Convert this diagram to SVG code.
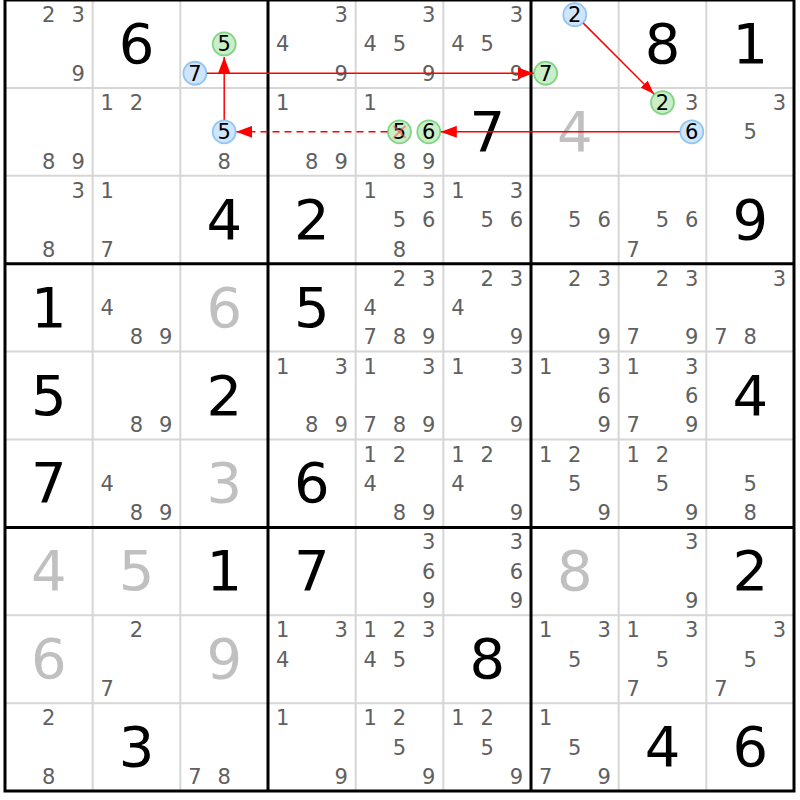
<svg xmlns="http://www.w3.org/2000/svg" width="800" height="800" viewBox="0 0 800 800">
<style>
text{font-family:"DejaVu Sans","Liberation Sans",sans-serif;text-anchor:middle}
.c{font-size:21px;fill:#606060}
.g{font-size:56px;fill:#000}
.s{font-size:56px;fill:#c0c0c0}
.d{font-size:21px;fill:#000}
.cb{fill:#cfe5fb;stroke:#92c6f2;stroke-width:1.8}
.cg{fill:#c9efc9;stroke:#84d484;stroke-width:1.8}
.thin{stroke:#d6d6d6;stroke-width:2}
.thick{stroke:#000;stroke-width:3}
.lk{stroke:#ff0000;stroke-width:1.5;fill:none}
.x{stroke:#ff5050;stroke-width:2;stroke-opacity:0.6}
</style>
<defs>
<marker id="ah" viewBox="0 0 16 12" refX="16" refY="6" markerWidth="16" markerHeight="12" markerUnits="userSpaceOnUse" orient="auto"><path d="M0,0 L16,6 L0,12 Z" fill="#ff0000"/></marker>
<marker id="ahs" viewBox="0 0 14 10" refX="14" refY="5" markerWidth="14" markerHeight="10" markerUnits="userSpaceOnUse" orient="auto"><path d="M0,0 L14,5 L0,10 Z" fill="#ff0000"/></marker>
</defs>
<rect x="0" y="0" width="800" height="800" fill="#fff"/>
<g id="grid">
<g class="thin">
<line x1="92.67" y1="0" x2="92.67" y2="791"/><line x1="180.33" y1="0" x2="180.33" y2="791"/>
<line x1="355.67" y1="0" x2="355.67" y2="791"/><line x1="443.33" y1="0" x2="443.33" y2="791"/>
<line x1="618.67" y1="0" x2="618.67" y2="791"/><line x1="706.33" y1="0" x2="706.33" y2="791"/>
<line x1="5" y1="87.9" x2="794" y2="87.9"/><line x1="5" y1="175.8" x2="794" y2="175.8"/>
<line x1="5" y1="351.6" x2="794" y2="351.6"/><line x1="5" y1="439.5" x2="794" y2="439.5"/>
<line x1="5" y1="615.3" x2="794" y2="615.3"/><line x1="5" y1="703.2" x2="794" y2="703.2"/>
</g>
<g class="thick">
<line x1="268" y1="0" x2="268" y2="791"/><line x1="531" y1="0" x2="531" y2="791"/>
<line x1="5" y1="263.7" x2="794" y2="263.7"/><line x1="5" y1="527.4" x2="794" y2="527.4"/>
<rect x="5" y="0" width="789" height="791" fill="none"/>
</g>
</g>
<g id="cells" transform="translate(0,0.6)">
<g id="r0c0"><text class="c" x="48.8" y="21.5">2</text><text class="c" x="78.1" y="21.5">3</text><text class="c" x="78.1" y="80.2">9</text></g>
<g id="r0c1"><text class="g" x="136.5" y="62.4">6</text></g>
<g id="r0c2"><circle class="cg" cx="224.2" cy="43.35" r="11.5"/><text class="d" x="224.2" y="50.9">5</text><circle class="cb" cx="194.9" cy="72.65" r="11.5"/><text class="d" x="194.9" y="80.2">7</text></g>
<g id="r0c3"><text class="c" x="341.1" y="21.5">3</text><text class="c" x="282.6" y="50.9">4</text><text class="c" x="341.1" y="80.2">9</text></g>
<g id="r0c4"><text class="c" x="428.8" y="21.5">3</text><text class="c" x="370.3" y="50.9">4</text><text class="c" x="399.5" y="50.9">5</text><text class="c" x="428.8" y="80.2">9</text></g>
<g id="r0c5"><text class="c" x="516.4" y="21.5">3</text><text class="c" x="457.9" y="50.9">4</text><text class="c" x="487.2" y="50.9">5</text><text class="c" x="516.4" y="80.2">9</text></g>
<g id="r0c6"><circle class="cb" cx="574.8" cy="14.05" r="11.5"/><text class="d" x="574.8" y="21.6">2</text><circle class="cg" cx="545.6" cy="72.65" r="11.5"/><text class="d" x="545.6" y="80.2">7</text></g>
<g id="r0c7"><text class="g" x="662.5" y="62.4">8</text></g>
<g id="r0c8"><text class="g" x="750.2" y="62.4">1</text></g>

<g id="r1c0"><text class="c" x="48.8" y="168.1">8</text><text class="c" x="78.1" y="168.1">9</text></g>
<g id="r1c1"><text class="c" x="107.3" y="109.4">1</text><text class="c" x="136.5" y="109.4">2</text></g>
<g id="r1c2"><circle class="cb" cx="224.2" cy="131.25" r="11.5"/><text class="d" x="224.2" y="138.8">5</text><text class="c" x="224.2" y="168.1">8</text></g>
<g id="r1c3"><text class="c" x="282.6" y="109.4">1</text><text class="c" x="311.8" y="168.1">8</text><text class="c" x="341.1" y="168.1">9</text></g>
<g id="r1c4"><text class="c" x="370.3" y="109.4">1</text><circle class="cg" cx="399.5" cy="131.25" r="11.5"/><text class="d" x="399.5" y="138.8">5</text><line class="x" x1="393.5" y1="125.25" x2="405.5" y2="137.25"/><line class="x" x1="405.5" y1="125.25" x2="393.5" y2="137.25"/><circle class="cg" cx="428.8" cy="131.25" r="11.5"/><text class="d" x="428.8" y="138.8">6</text><text class="c" x="399.5" y="168.1">8</text><text class="c" x="428.8" y="168.1">9</text></g>
<g id="r1c5"><text class="g" x="487.2" y="150.3">7</text></g>
<g id="r1c6"><text class="s" x="574.8" y="150.3">4</text></g>
<g id="r1c7"><circle class="cg" cx="662.5" cy="101.95" r="11.5"/><text class="d" x="662.5" y="109.5">2</text><text class="c" x="691.8" y="109.4">3</text><circle class="cb" cx="691.8" cy="131.25" r="11.5"/><text class="d" x="691.8" y="138.8">6</text></g>
<g id="r1c8"><text class="c" x="779.4" y="109.4">3</text><text class="c" x="750.2" y="138.8">5</text></g>

<g id="r2c0"><text class="c" x="78.1" y="197.3">3</text><text class="c" x="48.8" y="256">8</text></g>
<g id="r2c1"><text class="c" x="107.3" y="197.3">1</text><text class="c" x="107.3" y="256">7</text></g>
<g id="r2c2"><text class="g" x="224.2" y="238.2">4</text></g>
<g id="r2c3"><text class="g" x="311.8" y="238.2">2</text></g>
<g id="r2c4"><text class="c" x="370.3" y="197.3">1</text><text class="c" x="428.8" y="197.3">3</text><text class="c" x="399.5" y="226.7">5</text><text class="c" x="428.8" y="226.7">6</text><text class="c" x="399.5" y="256">8</text></g>
<g id="r2c5"><text class="c" x="457.9" y="197.3">1</text><text class="c" x="516.4" y="197.3">3</text><text class="c" x="487.2" y="226.7">5</text><text class="c" x="516.4" y="226.7">6</text></g>
<g id="r2c6"><text class="c" x="574.8" y="226.7">5</text><text class="c" x="604.1" y="226.7">6</text></g>
<g id="r2c7"><text class="c" x="662.5" y="226.7">5</text><text class="c" x="691.8" y="226.7">6</text><text class="c" x="633.3" y="256">7</text></g>
<g id="r2c8"><text class="g" x="750.2" y="238.2">9</text></g>

<g id="r3c0"><text class="g" x="48.8" y="326.1">1</text></g>
<g id="r3c1"><text class="c" x="107.3" y="314.6">4</text><text class="c" x="136.5" y="343.9">8</text><text class="c" x="165.8" y="343.9">9</text></g>
<g id="r3c2"><text class="s" x="224.2" y="326.1">6</text></g>
<g id="r3c3"><text class="g" x="311.8" y="326.1">5</text></g>
<g id="r3c4"><text class="c" x="399.5" y="285.2">2</text><text class="c" x="428.8" y="285.2">3</text><text class="c" x="370.3" y="314.6">4</text><text class="c" x="370.3" y="343.9">7</text><text class="c" x="399.5" y="343.9">8</text><text class="c" x="428.8" y="343.9">9</text></g>
<g id="r3c5"><text class="c" x="487.2" y="285.2">2</text><text class="c" x="516.4" y="285.2">3</text><text class="c" x="457.9" y="314.6">4</text><text class="c" x="516.4" y="343.9">9</text></g>
<g id="r3c6"><text class="c" x="574.8" y="285.2">2</text><text class="c" x="604.1" y="285.2">3</text><text class="c" x="604.1" y="343.9">9</text></g>
<g id="r3c7"><text class="c" x="662.5" y="285.2">2</text><text class="c" x="691.8" y="285.2">3</text><text class="c" x="633.3" y="343.9">7</text><text class="c" x="691.8" y="343.9">9</text></g>
<g id="r3c8"><text class="c" x="779.4" y="285.2">3</text><text class="c" x="720.9" y="343.9">7</text><text class="c" x="750.2" y="343.9">8</text></g>

<g id="r4c0"><text class="g" x="48.8" y="414">5</text></g>
<g id="r4c1"><text class="c" x="136.5" y="431.8">8</text><text class="c" x="165.8" y="431.8">9</text></g>
<g id="r4c2"><text class="g" x="224.2" y="414">2</text></g>
<g id="r4c3"><text class="c" x="282.6" y="373.1">1</text><text class="c" x="341.1" y="373.1">3</text><text class="c" x="311.8" y="431.8">8</text><text class="c" x="341.1" y="431.8">9</text></g>
<g id="r4c4"><text class="c" x="370.3" y="373.1">1</text><text class="c" x="428.8" y="373.1">3</text><text class="c" x="370.3" y="431.8">7</text><text class="c" x="399.5" y="431.8">8</text><text class="c" x="428.8" y="431.8">9</text></g>
<g id="r4c5"><text class="c" x="457.9" y="373.1">1</text><text class="c" x="516.4" y="373.1">3</text><text class="c" x="516.4" y="431.8">9</text></g>
<g id="r4c6"><text class="c" x="545.6" y="373.1">1</text><text class="c" x="604.1" y="373.1">3</text><text class="c" x="604.1" y="402.5">6</text><text class="c" x="604.1" y="431.8">9</text></g>
<g id="r4c7"><text class="c" x="633.3" y="373.1">1</text><text class="c" x="691.8" y="373.1">3</text><text class="c" x="691.8" y="402.5">6</text><text class="c" x="633.3" y="431.8">7</text><text class="c" x="691.8" y="431.8">9</text></g>
<g id="r4c8"><text class="g" x="750.2" y="414">4</text></g>

<g id="r5c0"><text class="g" x="48.8" y="501.9">7</text></g>
<g id="r5c1"><text class="c" x="107.3" y="490.4">4</text><text class="c" x="136.5" y="519.7">8</text><text class="c" x="165.8" y="519.7">9</text></g>
<g id="r5c2"><text class="s" x="224.2" y="501.9">3</text></g>
<g id="r5c3"><text class="g" x="311.8" y="501.9">6</text></g>
<g id="r5c4"><text class="c" x="370.3" y="461">1</text><text class="c" x="399.5" y="461">2</text><text class="c" x="370.3" y="490.4">4</text><text class="c" x="399.5" y="519.7">8</text><text class="c" x="428.8" y="519.7">9</text></g>
<g id="r5c5"><text class="c" x="457.9" y="461">1</text><text class="c" x="487.2" y="461">2</text><text class="c" x="457.9" y="490.4">4</text><text class="c" x="516.4" y="519.7">9</text></g>
<g id="r5c6"><text class="c" x="545.6" y="461">1</text><text class="c" x="574.8" y="461">2</text><text class="c" x="574.8" y="490.4">5</text><text class="c" x="604.1" y="519.7">9</text></g>
<g id="r5c7"><text class="c" x="633.3" y="461">1</text><text class="c" x="662.5" y="461">2</text><text class="c" x="662.5" y="490.4">5</text><text class="c" x="691.8" y="519.7">9</text></g>
<g id="r5c8"><text class="c" x="750.2" y="490.4">5</text><text class="c" x="750.2" y="519.7">8</text></g>

<g id="r6c0"><text class="s" x="48.8" y="589.8">4</text></g>
<g id="r6c1"><text class="s" x="136.5" y="589.8">5</text></g>
<g id="r6c2"><text class="g" x="224.2" y="589.8">1</text></g>
<g id="r6c3"><text class="g" x="311.8" y="589.8">7</text></g>
<g id="r6c4"><text class="c" x="428.8" y="548.9">3</text><text class="c" x="428.8" y="578.3">6</text><text class="c" x="428.8" y="607.6">9</text></g>
<g id="r6c5"><text class="c" x="516.4" y="548.9">3</text><text class="c" x="516.4" y="578.3">6</text><text class="c" x="516.4" y="607.6">9</text></g>
<g id="r6c6"><text class="s" x="574.8" y="589.8">8</text></g>
<g id="r6c7"><text class="c" x="691.8" y="548.9">3</text><text class="c" x="691.8" y="607.6">9</text></g>
<g id="r6c8"><text class="g" x="750.2" y="589.8">2</text></g>

<g id="r7c0"><text class="s" x="48.8" y="677.7">6</text></g>
<g id="r7c1"><text class="c" x="136.5" y="636.8">2</text><text class="c" x="107.3" y="695.5">7</text></g>
<g id="r7c2"><text class="s" x="224.2" y="677.7">9</text></g>
<g id="r7c3"><text class="c" x="282.6" y="636.8">1</text><text class="c" x="341.1" y="636.8">3</text><text class="c" x="282.6" y="666.2">4</text></g>
<g id="r7c4"><text class="c" x="370.3" y="636.8">1</text><text class="c" x="399.5" y="636.8">2</text><text class="c" x="428.8" y="636.8">3</text><text class="c" x="370.3" y="666.2">4</text><text class="c" x="399.5" y="666.2">5</text></g>
<g id="r7c5"><text class="g" x="487.2" y="677.7">8</text></g>
<g id="r7c6"><text class="c" x="545.6" y="636.8">1</text><text class="c" x="604.1" y="636.8">3</text><text class="c" x="574.8" y="666.2">5</text></g>
<g id="r7c7"><text class="c" x="633.3" y="636.8">1</text><text class="c" x="691.8" y="636.8">3</text><text class="c" x="662.5" y="666.2">5</text><text class="c" x="633.3" y="695.5">7</text></g>
<g id="r7c8"><text class="c" x="779.4" y="636.8">3</text><text class="c" x="750.2" y="666.2">5</text><text class="c" x="720.9" y="695.5">7</text></g>

<g id="r8c0"><text class="c" x="48.8" y="724.7">2</text><text class="c" x="48.8" y="783.4">8</text></g>
<g id="r8c1"><text class="g" x="136.5" y="765.6">3</text></g>
<g id="r8c2"><text class="c" x="194.9" y="783.4">7</text><text class="c" x="224.2" y="783.4">8</text></g>
<g id="r8c3"><text class="c" x="282.6" y="724.7">1</text><text class="c" x="341.1" y="783.4">9</text></g>
<g id="r8c4"><text class="c" x="370.3" y="724.7">1</text><text class="c" x="399.5" y="724.7">2</text><text class="c" x="399.5" y="754.1">5</text><text class="c" x="428.8" y="783.4">9</text></g>
<g id="r8c5"><text class="c" x="457.9" y="724.7">1</text><text class="c" x="487.2" y="724.7">2</text><text class="c" x="487.2" y="754.1">5</text><text class="c" x="516.4" y="783.4">9</text></g>
<g id="r8c6"><text class="c" x="545.6" y="724.7">1</text><text class="c" x="574.8" y="754.1">5</text><text class="c" x="545.6" y="783.4">7</text><text class="c" x="604.1" y="783.4">9</text></g>
<g id="r8c7"><text class="g" x="662.5" y="765.6">4</text></g>
<g id="r8c8"><text class="g" x="750.2" y="765.6">6</text></g>
</g>

<g id="connectors">
<line class="lk" x1="206.9" y1="73.25" x2="533.6" y2="73.25" marker-end="url(#ah)"/>
<line class="lk" x1="224.2" y1="119.85" x2="224.2" y2="57" marker-end="url(#ah)"/>
<line class="lk" x1="387.5" y1="131.85" x2="236.2" y2="131.85" stroke-dasharray="7 5" marker-end="url(#ah)"/>
<line class="lk" x1="679.8" y1="131.85" x2="440.8" y2="131.85" marker-end="url(#ah)"/>
<line class="lk" x1="583.3" y1="23.15" x2="654" y2="94.05" stroke-width="1" marker-end="url(#ahs)"/>
</g>
</svg>
